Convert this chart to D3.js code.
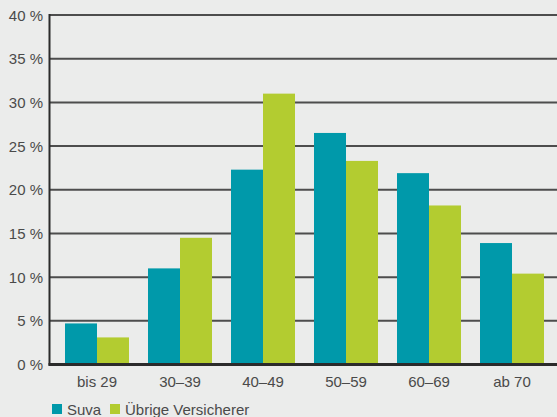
<!DOCTYPE html>
<html>
<head>
<meta charset="utf-8">
<script src="https://cdn.jsdelivr.net/npm/d3@7"></script>
<style>
  html, body { margin: 0; padding: 0; background: #ebeceb; }
  svg { display: block; }
  text { font-family: "Liberation Sans", Arial, sans-serif; fill: #4a4a4a; }
</style>
</head>
<body>
<svg id="chart" width="557" height="417"></svg>
<script>
// Altersgruppen und Anteile (in %)
const categories = ["bis 29", "30–39", "40–49", "50–59", "60–69", "ab 70"];
const suva = [4.7, 11.0, 22.3, 26.5, 21.9, 13.9];
const uebrige = [3.1, 14.5, 31.0, 23.3, 18.2, 10.4];
const seriesNames = ["Suva", "Übrige Versicherer"];
const yTicks = [0, 5, 10, 15, 20, 25, 30, 35, 40];

const colors = ["#0099aa", "#b3cc30"];
const svg = d3.select("#chart");

const plotLeft = 49.5, plotRight = 557, plotTop = 15, plotBottom = 364.5;

const y = d3.scaleLinear().domain([0, 40]).range([plotBottom, plotTop]);
const x = d3.scaleBand().domain(categories)
  .range([55.5, 553.5]).paddingInner(0.229).paddingOuter(0.1145);
const xs = d3.scaleBand().domain(seriesNames).range([0, x.bandwidth()]);

// Gitterlinien
svg.append("g").selectAll("line").data(yTicks.filter(d => d > 0)).join("line")
  .attr("x1", plotLeft).attr("x2", plotRight)
  .attr("y1", d => y(d)).attr("y2", d => y(d))
  .attr("stroke", "#4d4d4d").attr("stroke-width", 2);

// Balken
const rows = categories.map((c, i) => ({ c, vals: [suva[i], uebrige[i]] }));
const groups = svg.append("g").selectAll("g").data(rows).join("g")
  .attr("transform", d => `translate(${x(d.c)},0)`);
groups.selectAll("rect").data(d => d.vals.map((v, j) => ({ v, j }))).join("rect")
  .attr("x", d => xs(seriesNames[d.j]))
  .attr("width", xs.bandwidth())
  .attr("y", d => y(d.v))
  .attr("height", d => y(0) - y(d.v))
  .attr("fill", d => colors[d.j]);

// Achsen
svg.append("line").attr("x1", plotLeft).attr("x2", plotLeft).attr("y1", plotTop - 1).attr("y2", plotBottom + 1)
  .attr("stroke", "#2b2b2b").attr("stroke-width", 2);
svg.append("line").attr("x1", plotLeft - 1).attr("x2", plotRight).attr("y1", plotBottom).attr("y2", plotBottom)
  .attr("stroke", "#2b2b2b").attr("stroke-width", 3);

// Y-Beschriftung
svg.append("g").selectAll("text").data(yTicks).join("text")
  .attr("x", 43).attr("y", d => y(d) + 5.5)
  .attr("text-anchor", "end").attr("font-size", 15)
  .text(d => d + " %");

// X-Beschriftung
svg.append("g").selectAll("text").data(categories).join("text")
  .attr("x", d => x(d) + x.bandwidth() / 2).attr("y", 387)
  .attr("text-anchor", "middle").attr("font-size", 15)
  .text(d => d);

// Legende
const legendX = [52, 110];
const leg = svg.append("g").selectAll("g").data(seriesNames).join("g")
  .attr("transform", (d, i) => `translate(${legendX[i]},404)`);
leg.append("rect").attr("width", 10).attr("height", 10).attr("fill", (d, i) => colors[i]);
leg.append("text").attr("x", 15).attr("y", 10.5).attr("font-size", 15).text(d => d);
</script>
</body>
</html>
